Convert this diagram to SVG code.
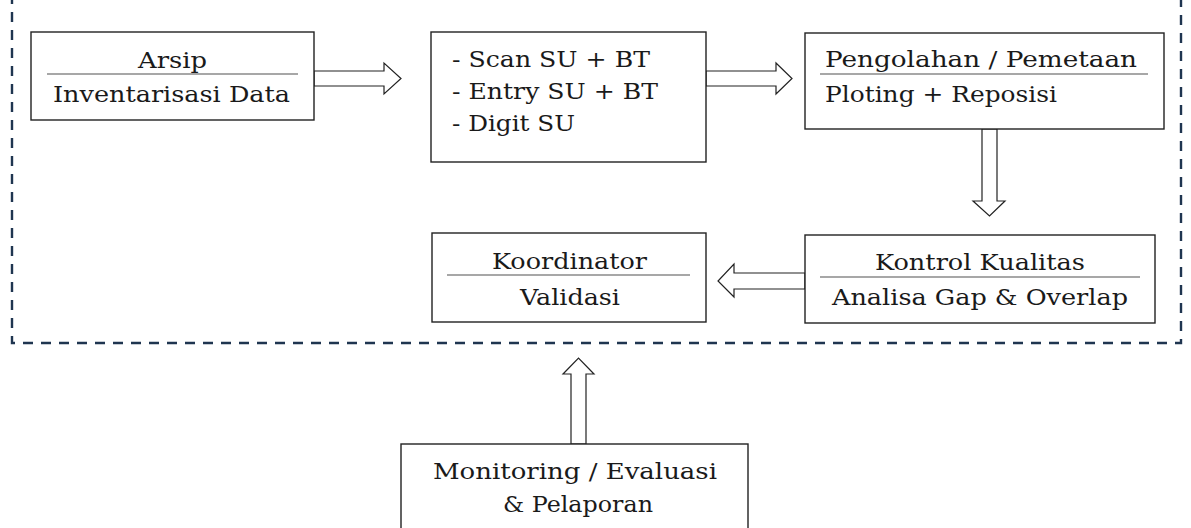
<svg xmlns="http://www.w3.org/2000/svg" width="1191" height="528" viewBox="0 0 1191 528">
  <style>
    .box { fill: #ffffff; stroke: #222222; stroke-width: 1.4; }
    .rule { stroke: #8a8a8a; stroke-width: 1.6; }
    .lbl { font-family: "DejaVu Serif", "Liberation Serif", serif; font-size: 23px; fill: #1a1a1a; }
    .mid { text-anchor: middle; }
    .arrow { fill: #ffffff; stroke: #222222; stroke-width: 1.2; stroke-linejoin: miter; }
    .frame { fill: none; stroke: #1f3550; stroke-width: 2.4; stroke-dasharray: 10 8; }
  </style>
  <rect width="1191" height="528" fill="#ffffff"/>

  <!-- dashed boundary around the processing stages -->
  <path class="frame" d="M12,-6 V343 H1181 V-6"/>

  <!-- block arrows -->
  <g id="connectors">
    <path class="arrow" d="M314,71 H384 V63 L401,78.5 L384,94 V86 H314 Z"/>
    <path class="arrow" d="M706,71 H776 V63 L792,78.5 L776,94 V86 H706 Z"/>
    <path class="arrow" d="M982,129 V201 H973 L989.5,216 L1005,201 H997 V129 Z"/>
    <path class="arrow" d="M805,273 H734 V264 L718,281 L734,297 V289 H805 Z"/>
    <path class="arrow" d="M571,444 V374 H563 L578.5,358 L594,374 H586 V444 Z"/>
  </g>

  <g id="arsip">
    <rect class="box" x="31" y="32" width="283" height="88"/>
    <line class="rule" x1="47" y1="74" x2="298" y2="74"/>
    <text class="lbl mid" x="172.5" y="68" textLength="69" lengthAdjust="spacingAndGlyphs">Arsip</text>
    <text class="lbl mid" x="171.5" y="102" textLength="237" lengthAdjust="spacingAndGlyphs">Inventarisasi Data</text>
  </g>

  <g id="scan-entry">
    <rect class="box" x="431" y="32" width="275" height="130"/>
    <text class="lbl" x="452" y="67" textLength="198" lengthAdjust="spacingAndGlyphs">- Scan SU + BT</text>
    <text class="lbl" x="452" y="99" textLength="206" lengthAdjust="spacingAndGlyphs">- Entry SU + BT</text>
    <text class="lbl" x="452" y="131" textLength="123" lengthAdjust="spacingAndGlyphs">- Digit SU</text>
  </g>

  <g id="pengolahan">
    <rect class="box" x="805" y="33" width="359" height="96"/>
    <line class="rule" x1="820" y1="74" x2="1148" y2="74"/>
    <text class="lbl" x="825" y="67" textLength="312" lengthAdjust="spacingAndGlyphs">Pengolahan / Pemetaan</text>
    <text class="lbl" x="825" y="102" textLength="232" lengthAdjust="spacingAndGlyphs">Ploting + Reposisi</text>
  </g>

  <g id="kontrol">
    <rect class="box" x="805" y="235" width="350" height="88"/>
    <line class="rule" x1="820" y1="277" x2="1140" y2="277"/>
    <text class="lbl mid" x="980" y="270" textLength="210" lengthAdjust="spacingAndGlyphs">Kontrol Kualitas</text>
    <text class="lbl mid" x="980" y="305" textLength="296" lengthAdjust="spacingAndGlyphs">Analisa Gap &amp; Overlap</text>
  </g>

  <g id="koordinator">
    <rect class="box" x="432" y="233" width="274" height="89"/>
    <line class="rule" x1="447" y1="275" x2="690" y2="275"/>
    <text class="lbl mid" x="569.5" y="269" textLength="155" lengthAdjust="spacingAndGlyphs">Koordinator</text>
    <text class="lbl mid" x="570" y="305" textLength="100" lengthAdjust="spacingAndGlyphs">Validasi</text>
  </g>

  <g id="monitoring">
    <rect class="box" x="401" y="444" width="347" height="100"/>
    <text class="lbl mid" x="575" y="479" textLength="284" lengthAdjust="spacingAndGlyphs">Monitoring / Evaluasi</text>
    <text class="lbl mid" x="578" y="512" textLength="150" lengthAdjust="spacingAndGlyphs">&amp; Pelaporan</text>
  </g>
</svg>
